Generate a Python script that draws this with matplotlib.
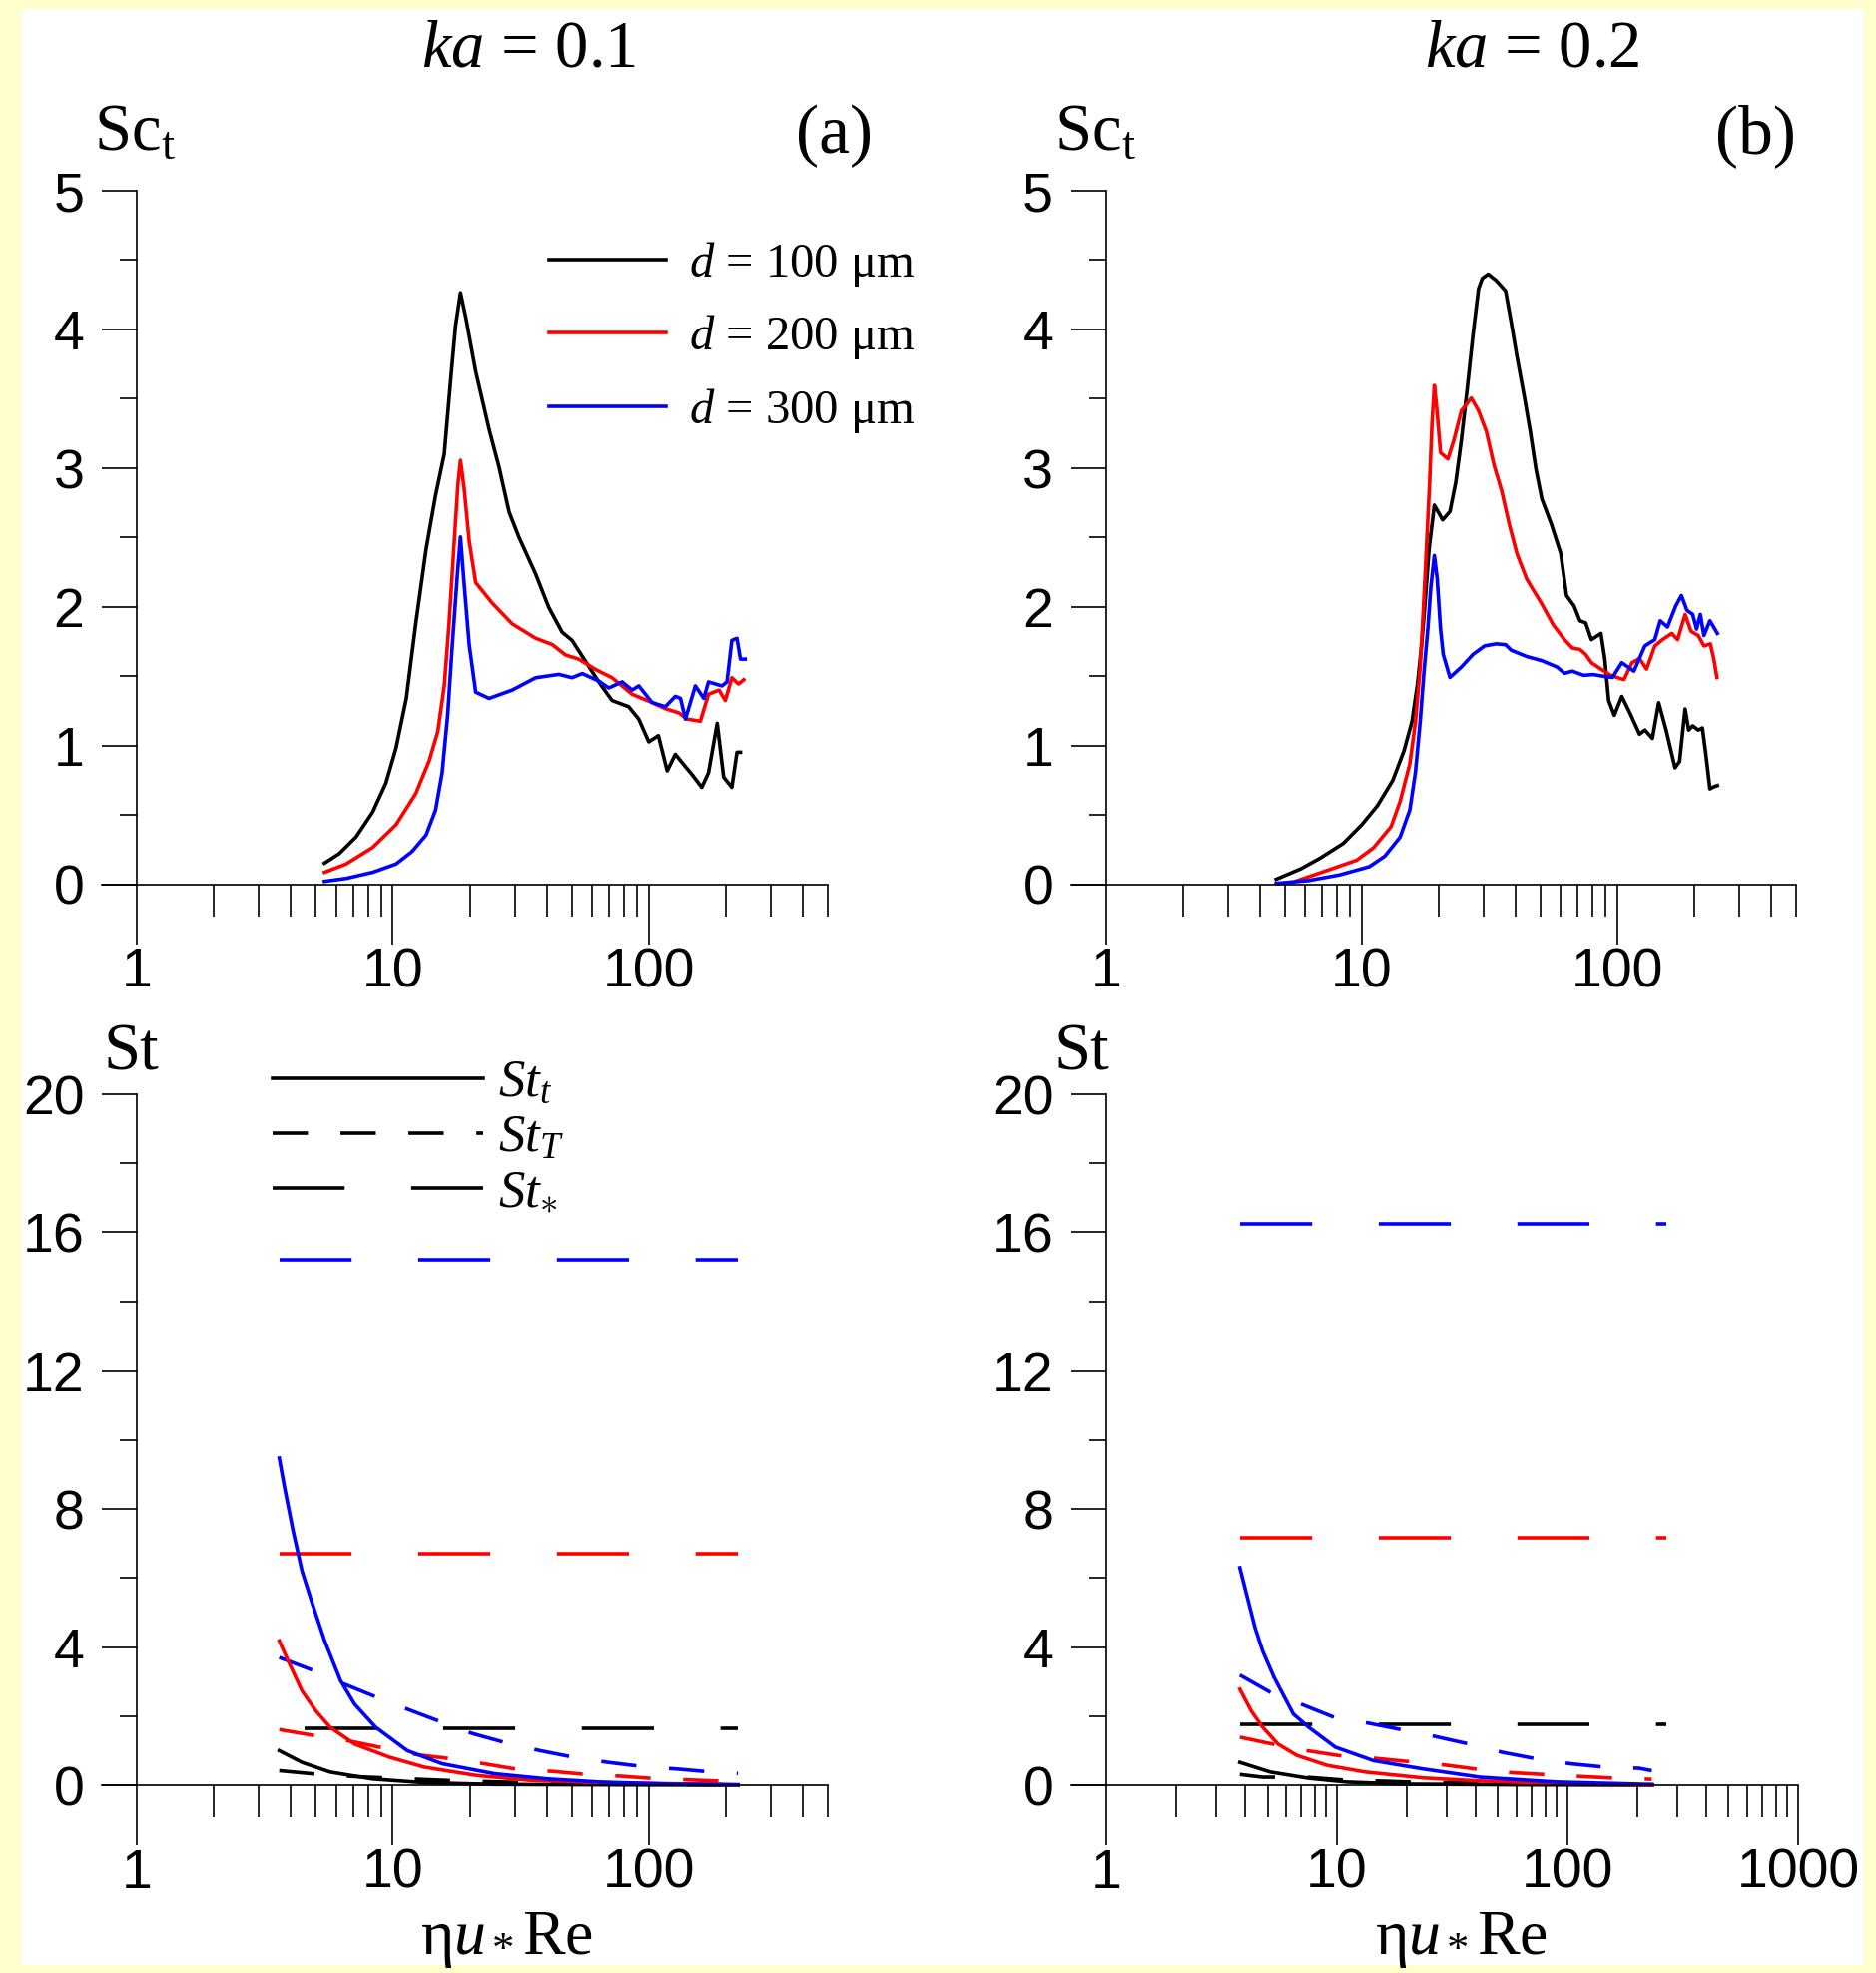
import matplotlib
matplotlib.use("Agg")
import matplotlib.pyplot as plt
from matplotlib.patches import Rectangle
from matplotlib.lines import Line2D
from matplotlib.ticker import FixedLocator, FixedFormatter, NullFormatter

plt.rcParams['font.family'] = ['Liberation Sans', 'DejaVu Sans']
plt.rcParams['mathtext.fontset'] = 'custom'
plt.rcParams['mathtext.rm'] = 'Liberation Serif'
plt.rcParams['mathtext.it'] = 'Liberation Serif:italic'
plt.rcParams['mathtext.bf'] = 'Liberation Serif:bold'
plt.rcParams['lines.scale_dashes'] = False

# ---------------- data: panel (a), ka = 0.1, Sc_t ----------------
a_x_100 = [5.41, 6.18, 7.18, 8.34, 9.40, 10.3, 11.3, 12.3, 13.5, 14.7, 15.9, 16.9, 17.6, 18.4,
           19.3, 21.1, 23.8, 26.0, 28.5, 31.1, 36.2, 40.7, 45.9, 50.2, 56.6, 63.8, 71.9, 83.5,
           91.4, 100, 109, 118, 127, 139, 148, 161, 171, 185, 196, 211, 221, 228]
a_y_100 = [0.155, 0.224, 0.343, 0.522, 0.731, 0.984, 1.342, 1.879, 2.416, 2.803, 3.102, 3.668,
           4.026, 4.265, 4.086, 3.698, 3.281, 3.012, 2.684, 2.505, 2.237, 1.998, 1.819, 1.760,
           1.610, 1.461, 1.327, 1.282, 1.193, 1.029, 1.074, 0.820, 0.939, 0.850, 0.790, 0.701,
           0.805, 1.163, 0.775, 0.701, 0.954, 0.954]
a_x_200 = [5.41, 6.57, 8.34, 10.3, 12.3, 13.9, 15.0, 15.9, 16.6, 17.4, 18.0, 18.4, 19.0, 19.9,
           21.1, 24.5, 29.3, 36.2, 42.0, 47.3, 53.3, 61.9, 71.9, 86.1, 103, 116, 131, 141, 159,
           171, 188, 199, 211, 224, 235]
a_y_200 = [0.089, 0.149, 0.268, 0.432, 0.656, 0.895, 1.103, 1.432, 1.879, 2.475, 2.893, 3.057,
           2.863, 2.475, 2.177, 2.028, 1.879, 1.775, 1.730, 1.655, 1.625, 1.551, 1.491, 1.372,
           1.312, 1.268, 1.238, 1.193, 1.178, 1.372, 1.402, 1.327, 1.491, 1.446, 1.476]
a_x_300 = [5.41, 6.57, 8.34, 10.3, 11.9, 13.5, 14.7, 15.6, 16.4, 17.1, 17.9, 18.4, 19.0, 19.9,
           21.1, 23.8, 29.3, 36.2, 44.6, 50.2, 55.0, 63.8, 69.8, 78.7, 86.1, 91.4, 103, 116,
           127, 133, 139, 152, 164, 171, 193, 202, 211, 221, 228, 238]
a_y_300 = [0.024, 0.045, 0.089, 0.149, 0.239, 0.358, 0.537, 0.805, 1.223, 1.730, 2.237, 2.505,
           2.177, 1.730, 1.387, 1.342, 1.402, 1.491, 1.515, 1.491, 1.521, 1.467, 1.417, 1.461,
           1.402, 1.432, 1.312, 1.282, 1.357, 1.342, 1.193, 1.432, 1.342, 1.461, 1.432, 1.461,
           1.760, 1.775, 1.625, 1.625]

# ---------------- data: panel (b), ka = 0.2, Sc_t ----------------
b_x_100 = [4.62, 5.78, 6.86, 8.45, 10.0, 11.5, 13.2, 14.6, 15.7, 16.5, 17.1, 17.7, 18.3, 19.2,
           20.7, 22.1, 23.3, 24.5, 25.8, 27.2, 28.6, 29.6, 31.2, 33.5, 36.5, 38.4, 40.4, 43.3,
           45.6, 48.0, 50.6, 55.1, 60.0, 63.2, 67.7, 71.3, 75.1, 79.1, 86.2, 89.2, 92.4, 97.2,
           104, 112, 122, 128, 137, 145, 155, 168, 175, 184, 190, 197, 207, 215, 222, 230, 238, 246]
b_y_100 = [0.039, 0.115, 0.191, 0.297, 0.433, 0.569, 0.751, 0.963, 1.175, 1.447, 1.720, 2.053,
           2.416, 2.734, 2.628, 2.688, 2.900, 3.203, 3.566, 3.960, 4.293, 4.369, 4.399, 4.354,
           4.278, 4.051, 3.809, 3.506, 3.264, 2.991, 2.779, 2.598, 2.386, 2.083, 2.007, 1.901,
           1.886, 1.765, 1.810, 1.629, 1.326, 1.220, 1.356, 1.235, 1.084, 1.114, 1.054, 1.311,
           1.114, 0.842, 0.887, 1.266, 1.114, 1.144, 1.114, 1.129, 0.932, 0.690, 0.705, 0.714]
b_x_200 = [5.49, 6.86, 9.53, 11.1, 13.0, 14.1, 15.4, 16.2, 16.9, 17.4, 17.9, 18.4, 18.8, 19.2,
           19.6, 20.3, 21.7, 22.9, 24.5, 26.8, 28.6, 30.7, 32.9, 35.2, 37.7, 40.4, 44.1, 47.2,
           50.6, 56.1, 62.1, 66.6, 71.3, 75.1, 79.1, 86.2, 94.0, 106, 114, 122, 130, 140, 150,
           163, 172, 184, 194, 207, 218, 231, 238, 245]
b_y_200 = [0.024, 0.085, 0.176, 0.266, 0.418, 0.599, 0.872, 1.175, 1.568, 1.992, 2.446, 2.900,
           3.324, 3.597, 3.445, 3.112, 3.067, 3.203, 3.415, 3.506, 3.415, 3.264, 3.021, 2.840,
           2.598, 2.386, 2.204, 2.113, 2.022, 1.871, 1.765, 1.705, 1.695, 1.659, 1.599, 1.553,
           1.508, 1.477, 1.599, 1.629, 1.553, 1.720, 1.765, 1.810, 1.765, 1.947, 1.826, 1.795,
           1.720, 1.735, 1.629, 1.493]
b_x_300 = [4.62, 6.19, 8.16, 10.7, 12.3, 14.1, 15.4, 16.2, 16.9, 17.5, 18.1, 18.6, 19.2, 19.7,
           20.3, 20.8, 22.1, 24.5, 27.2, 30.2, 33.5, 36.5, 38.4, 44.1, 50.6, 58.0, 62.1, 66.6,
           73.8, 80.4, 87.6, 95.6, 104, 116, 128, 140, 147, 157, 169, 178, 187, 197, 204, 211,
           218, 230, 238, 246]
b_y_300 = [0.009, 0.030, 0.070, 0.130, 0.206, 0.342, 0.539, 0.811, 1.175, 1.538, 1.841, 2.144,
           2.371, 2.204, 1.841, 1.659, 1.493, 1.568, 1.659, 1.720, 1.735, 1.729, 1.689, 1.644,
           1.614, 1.568, 1.523, 1.538, 1.508, 1.514, 1.502, 1.493, 1.599, 1.538, 1.720, 1.765,
           1.901, 1.856, 2.007, 2.083, 1.977, 1.947, 1.841, 1.947, 1.795, 1.901, 1.856, 1.810]

# ---------------- data: panel (c), ka = 0.1, St ----------------
# St_t (solid)
c_stt_x_300 = [3.60, 3.78, 4.08, 4.42, 4.86, 5.42, 6.25, 7.09, 8.57, 11.4, 15.6, 25.0, 40.1, 64.2, 120, 223]
c_stt_y_300 = [9.48, 8.61, 7.36, 6.20, 5.24, 4.18, 3.03, 2.35, 1.68, 1.00, 0.62, 0.33, 0.18, 0.09, 0.03, 0.01]
c_stt_x_200 = [3.60, 3.90, 4.42, 5.01, 5.69, 7.09, 9.71, 13.3, 21.3, 34.2, 64.2, 223]
c_stt_y_200 = [4.18, 3.60, 2.73, 2.15, 1.68, 1.19, 0.81, 0.52, 0.28, 0.14, 0.07, 0.01]
c_stt_x_100 = [3.60, 4.42, 5.69, 8.30, 13.3, 25.0, 64.2, 223]
c_stt_y_100 = [1.00, 0.66, 0.38, 0.18, 0.07, 0.02, 0.01, 0.0]
# St_T (short dashes)
c_stT_x_300 = [3.60, 4.94, 6.45, 8.70, 11.6, 15.6, 20.4, 28.2, 37.6, 52.4, 69.5, 96.8, 128, 176, 223]
c_stT_y_300 = [3.70, 3.31, 2.93, 2.54, 2.18, 1.82, 1.50, 1.21, 1.00, 0.79, 0.66, 0.53, 0.47, 0.38, 0.34]
c_stT_x_200 = [3.60, 5.01, 6.66, 9.27, 12.5, 17.1, 22.8, 31.7, 42.0, 58.5, 77.6, 110, 146, 200, 223]
c_stT_y_200 = [1.61, 1.43, 1.29, 1.07, 0.88, 0.76, 0.62, 0.44, 0.40, 0.30, 0.26, 0.18, 0.15, 0.11, 0.10]
c_stT_x_100 = [3.60, 5.01, 7.0, 10.0, 17.0, 30.0, 60.0, 100, 223]
c_stT_y_100 = [0.42, 0.32, 0.25, 0.20, 0.13, 0.08, 0.04, 0.02, 0.01]
# St_* (long dashes, constant)
c_sts_x = {300: [3.60, 223], 200: [3.60, 223], 100: [4.5, 223]}
c_sts_v = {300: 15.2, 200: 6.71, 100: 1.65}

# ---------------- data: panel (d), ka = 0.2, St ----------------
d_stt_x_300 = [3.79, 4.09, 4.41, 4.76, 5.34, 6.47, 7.53, 9.84, 14.4, 23.6, 41.9, 89.8, 233]
d_stt_y_300 = [6.30, 5.43, 4.57, 3.89, 3.12, 2.06, 1.68, 1.10, 0.71, 0.47, 0.23, 0.09, 0.02]
d_stt_x_200 = [3.79, 4.25, 4.76, 5.55, 6.71, 9.10, 13.3, 23.6, 41.9, 89.8, 233]
d_stt_y_200 = [2.78, 2.15, 1.68, 1.19, 0.86, 0.57, 0.38, 0.21, 0.12, 0.05, 0.0]
d_stt_x_100 = [3.79, 5.14, 7.53, 11.0, 19.5, 60, 233]
d_stt_y_100 = [0.66, 0.38, 0.20, 0.09, 0.03, 0.01, 0.0]
d_stT_x_300 = [3.79, 5.14, 6.97, 9.84, 13.6, 19.3, 26.7, 38.1, 52.3, 73.6, 103, 146, 204, 232]
d_stT_y_300 = [3.19, 2.69, 2.35, 1.95, 1.80, 1.60, 1.41, 1.18, 0.95, 0.76, 0.62, 0.52, 0.49, 0.42]
d_stT_x_200 = [3.79, 5.34, 7.39, 10.6, 14.5, 20.7, 28.9, 41.9, 57.9, 83.3, 115, 162, 232]
d_stT_y_200 = [1.39, 1.18, 1.00, 0.84, 0.78, 0.68, 0.59, 0.45, 0.36, 0.30, 0.25, 0.20, 0.17]
d_stT_x_100 = [3.79, 4.76, 7.39, 10.6, 15.0, 20.7, 60, 232]
d_stT_y_100 = [0.31, 0.23, 0.23, 0.15, 0.12, 0.09, 0.04, 0.01]
d_sts_x = {300: [3.79, 268], 200: [3.79, 268], 100: [3.79, 268]}
d_sts_v = {300: 16.24, 200: 7.17, 100: 1.75}

colors = {100: '#000000', 200: '#ff0000', 300: '#0000ff'}
LW = 2.6
DASH_T = (0, (25.5, 23.5))
DASH_S = (0, (52, 48))

W, H = 1879, 1976
fig = plt.figure(figsize=(W / 100, H / 100), dpi=100, facecolor='#ffffcc')
fig.patches.append(Rectangle((21 / W, 1 - 1968 / H), (1867 - 21) / W, (1968 - 9) / H,
                             transform=fig.transFigure, facecolor='white',
                             edgecolor='none', zorder=-10))


def make_ax(x0, x1, yb, yt, xlo, xhi, ymax, ymajor, yminor):
    ax = fig.add_axes([x0 / W, 1 - yb / H, (x1 - x0) / W, (yb - yt) / H])
    ax.patch.set_visible(False)
    ax.set_xscale('log')
    ax.set_xlim(xlo, xhi)
    ax.set_ylim(0, ymax)
    ax.spines['top'].set_visible(False)
    ax.spines['right'].set_visible(False)
    ax.spines['left'].set_position(('data', 1))
    for s in ('left', 'bottom'):
        ax.spines[s].set_linewidth(1.2)
    majors = [v for v in (1, 10, 100, 1000) if v <= xhi * 1.001]
    minors = [m * v for v in (1, 10, 100) for m in range(2, 10) if m * v <= xhi * 1.001]
    ax.xaxis.set_major_locator(FixedLocator(majors))
    ax.xaxis.set_major_formatter(FixedFormatter([str(v) for v in majors]))
    ax.xaxis.set_minor_locator(FixedLocator(minors))
    ax.xaxis.set_minor_formatter(NullFormatter())
    ax.yaxis.set_major_locator(FixedLocator(ymajor))
    ax.yaxis.set_minor_locator(FixedLocator(yminor))
    ax.tick_params(axis='x', which='major', direction='out', length=43, width=1.2,
                   labelsize=40, pad=2)
    ax.tick_params(axis='x', which='minor', direction='out', length=23, width=1.2)
    ax.tick_params(axis='y', which='major', direction='out', length=25, width=1.2,
                   labelsize=40, pad=13)
    ax.tick_params(axis='y', which='minor', direction='out', length=12, width=1.2)
    return ax


ymaj_top = [0, 1, 2, 3, 4, 5]
ymin_top = [0.5, 1.5, 2.5, 3.5, 4.5]
ymaj_bot = [0, 4, 8, 12, 16, 20]
ymin_bot = [2, 6, 10, 14, 18]

ax_a = make_ax(102, 829, 886, 191, 0.730, 500, 5, ymaj_top, ymin_top)
ax_b = make_ax(1073, 1799, 886, 191, 0.730, 500, 5, ymaj_top, ymin_top)
ax_c = make_ax(102, 829, 1788, 1096, 0.730, 500, 20, ymaj_bot, ymin_bot)
ax_d = make_ax(1073, 1801, 1788, 1096, 0.705, 1000, 20, ymaj_bot, ymin_bot)

# top panels
la = []
for xs, ys, d in ((a_x_100, a_y_100, 100), (a_x_200, a_y_200, 200), (a_x_300, a_y_300, 300)):
    ln, = ax_a.plot(xs, ys, color=colors[d], lw=LW, clip_on=False)
    la.append(ln)
for xs, ys, d in ((b_x_100, b_y_100, 100), (b_x_200, b_y_200, 200), (b_x_300, b_y_300, 300)):
    ax_b.plot(xs, ys, color=colors[d], lw=LW, clip_on=False)

ax_a.legend(la, [r'$d$ = 100 μm', r'$d$ = 200 μm', r'$d$ = 300 μm'],
            loc='upper left', bbox_to_anchor=((550 - 102) / 727, (886 - 240) / 695),
            frameon=False, handlelength=2.4, handletextpad=0.47,
            labelspacing=0.5, borderpad=0, borderaxespad=0,
            prop={'family': 'Liberation Serif', 'size': 35})

# bottom panels
panel_c = {
    'stt': ((c_stt_x_100, c_stt_y_100), (c_stt_x_200, c_stt_y_200), (c_stt_x_300, c_stt_y_300)),
    'stT': ((c_stT_x_100, c_stT_y_100), (c_stT_x_200, c_stT_y_200), (c_stT_x_300, c_stT_y_300)),
}
panel_d = {
    'stt': ((d_stt_x_100, d_stt_y_100), (d_stt_x_200, d_stt_y_200), (d_stt_x_300, d_stt_y_300)),
    'stT': ((d_stT_x_100, d_stT_y_100), (d_stT_x_200, d_stT_y_200), (d_stT_x_300, d_stT_y_300)),
}
for ax, pan, sx, sv in ((ax_c, panel_c, c_sts_x, c_sts_v), (ax_d, panel_d, d_sts_x, d_sts_v)):
    for d in (100, 200, 300):
        ax.plot(sx[d], [sv[d], sv[d]], color=colors[d], lw=LW, ls=DASH_S, clip_on=False)
    for (xs, ys), d in zip(pan['stT'], (100, 200, 300)):
        ax.plot(xs, ys, color=colors[d], lw=LW, ls=DASH_T, clip_on=False)
    for (xs, ys), d in zip(pan['stt'], (100, 200, 300)):
        ax.plot(xs, ys, color=colors[d], lw=LW, clip_on=False)

h_c = [Line2D([], [], color='k', lw=LW),
       Line2D([], [], color='k', lw=LW, ls=DASH_T),
       Line2D([], [], color='k', lw=LW, ls=DASH_S)]
ax_c.legend(h_c, [r'$St_t$', r'$St_T$', r'$St_{\ast}$'],
            loc='upper left', bbox_to_anchor=((273 - 102) / 727, (1788 - 1061) / 692),
            frameon=False, handlelength=4.0, handletextpad=0.28,
            labelspacing=0.14, borderpad=0, borderaxespad=0,
            prop={'family': 'Liberation Serif', 'size': 38})

# texts
serif = 'Liberation Serif'
fig.text(530 / W, 1 - 50 / H, r'$ka$ = 0.1', ha='center', va='center', fontsize=48, family=serif)
fig.text(1535 / W, 1 - 50 / H, r'$ka$ = 0.2', ha='center', va='center', fontsize=48, family=serif)
fig.text(94 / W, 1 - 150 / H, r'Sc$_\mathrm{t}$', ha='left', va='baseline', fontsize=48, family=serif)
fig.text(1056 / W, 1 - 150 / H, r'Sc$_\mathrm{t}$', ha='left', va='baseline', fontsize=48, family=serif)
fig.text(836 / W, 1 - 136 / H, '(a)', ha='center', va='center', fontsize=50, family=serif)
fig.text(1758 / W, 1 - 136 / H, '(b)', ha='center', va='center', fontsize=50, family=serif)
fig.text(104 / W, 1 - 1072 / H, 'St', ha='left', va='baseline', fontsize=48, family=serif)
fig.text(1056 / W, 1 - 1072 / H, 'St', ha='left', va='baseline', fontsize=48, family=serif)
fig.text(507 / W, 1 - 1957 / H, r'η$u_*$Re', ha='center', va='baseline', fontsize=46, family=serif)
fig.text(1463 / W, 1 - 1957 / H, r'η$u_*$Re', ha='center', va='baseline', fontsize=46, family=serif)

fig.savefig('out.png', dpi=100, facecolor=fig.get_facecolor())
